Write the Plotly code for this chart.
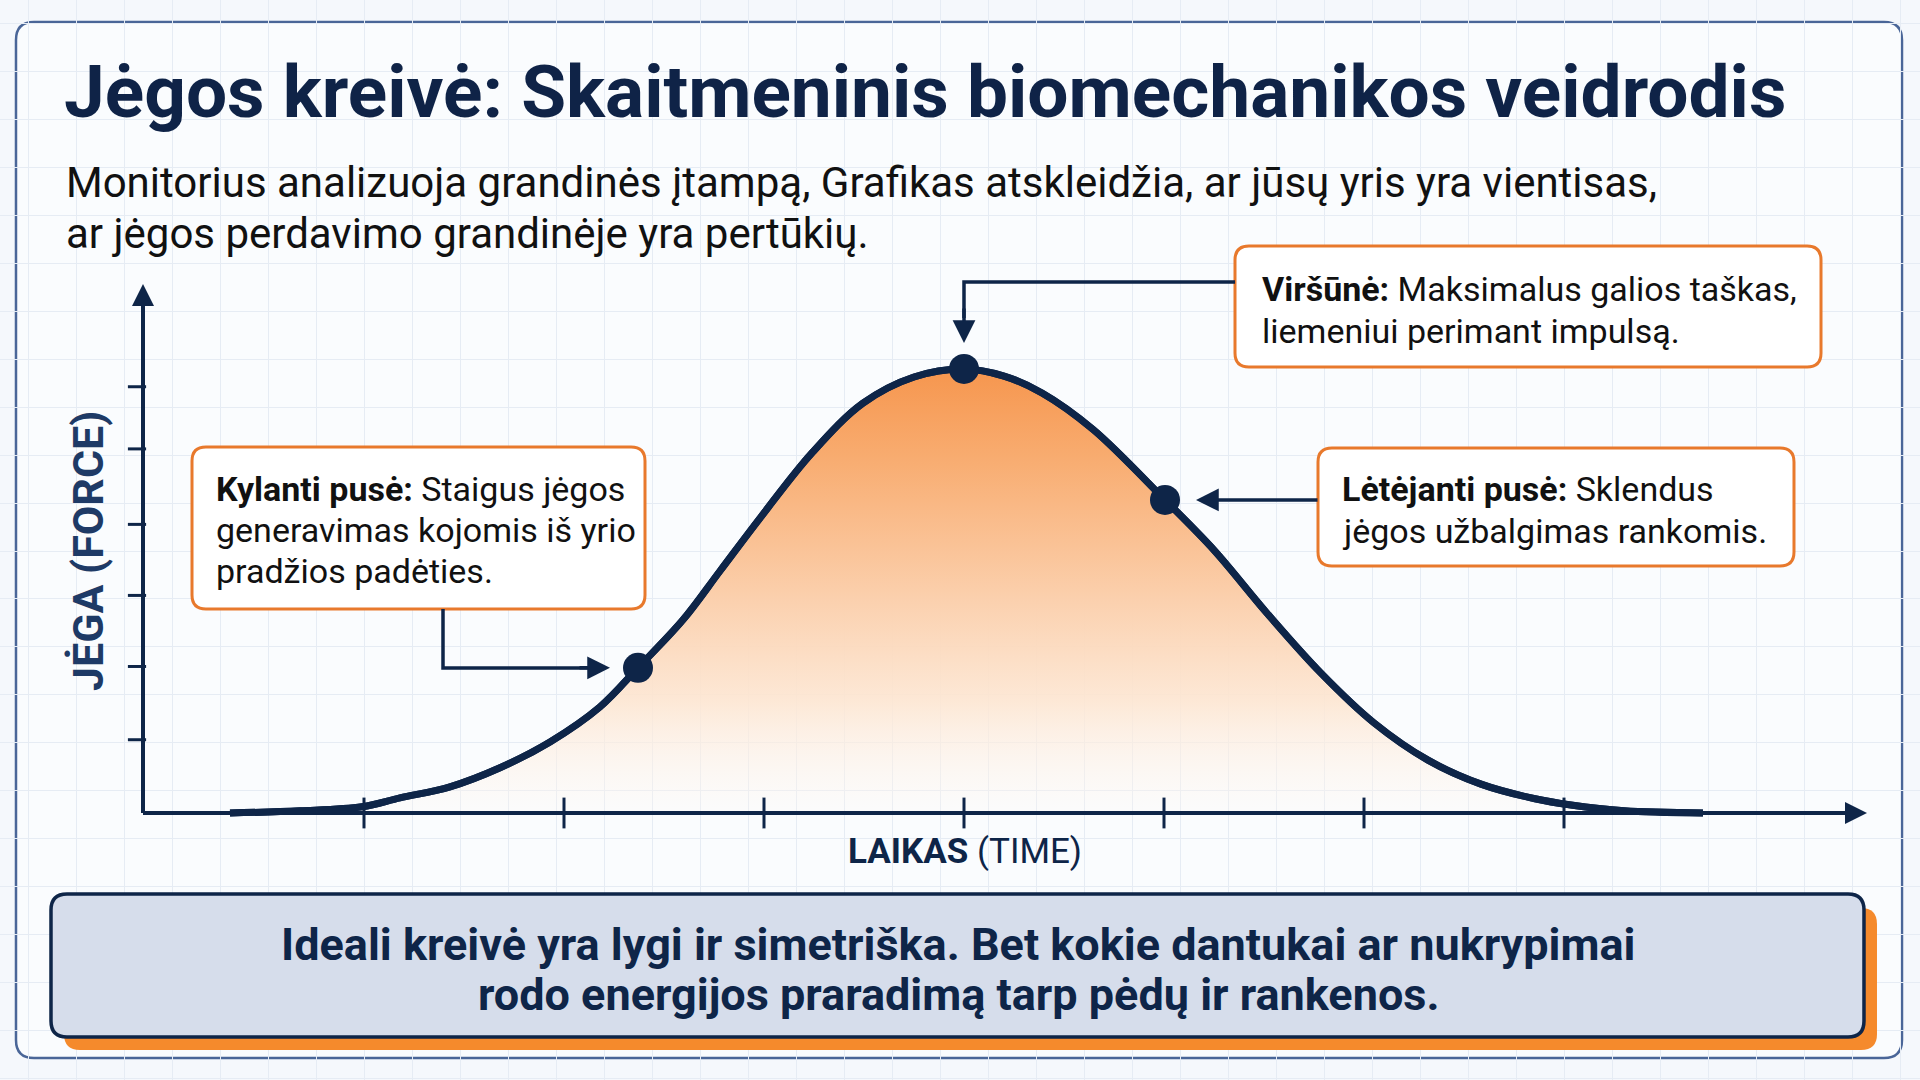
import plotly.graph_objects as go

# ---------------- data ----------------
time = [-3.67, -3.32, -3.01, -2.82, -2.57, -2.32, -2.07, -1.82, -1.63, -1.405, -1.22,
        -1.015, -0.76, -0.505, -0.25, 0.0, 0.2, 0.39, 0.645, 1.005, 1.25, 1.515,
        1.785, 2.05, 2.32, 2.585, 2.855, 3.035, 3.3, 3.695]
force = [0, 0.5, 1.4, 3.4, 5.9, 10.2, 16.0, 23.9, 32.7, 43.5, 54.5,
         66.7, 81.1, 92.3, 98.2, 100, 98.4, 94.6, 86.4, 70.5, 59.2, 45,
         31.5, 20.3, 11.9, 6.5, 3.2, 1.8, 0.5, 0]

key_time = [-1.63, 0.0, 1.005]
key_force = [32.7, 100, 70.5]

x_ticks = [-3, -2, -1, 0, 1, 2, 3]
y_ticks = [16.5, 33, 49, 65, 82, 96]

title_text = "Jėgos kreivė: Skaitmeninis biomechanikos veidrodis"
subtitle_lines = ["Monitorius analizuoja grandinės įtampą, Grafikas atskleidžia, ar jūsų yris yra vientisas,",
                  "ar jėgos perdavimo grandinėje yra pertūkių."]
rise_lines = ["<b>Kylanti pusė:</b> Staigus jėgos", "generavimas kojomis iš yrio", "pradžios padėties."]
peak_lines = ["<b>Viršūnė:</b> Maksimalus galios taškas,", "liemeniui perimant impulsą."]
fall_lines = ["<b>Lėtėjanti pusė:</b> Sklendus", "jėgos užbalgimas rankomis."]
bottom_lines = ["Ideali kreivė yra lygi ir simetriška. Bet kokie dantukai ar nukrypimai",
                "rodo energijos praradimą tarp pėdų ir rankenos."]
y_title = "JĖGA (FORCE)"
x_title = "<b>LAIKAS</b> (TIME)"

# ---------------- layout helpers ----------------
W, H = 1920, 1080
X_RANGE = [-4.82, 4.78]
Y_RANGE = [-60.135, 183.1]
NAVY = "#0E2548"
ORANGE = "#E8792C"
FONT = "Roboto"


def X(px):
    return X_RANGE[0] + px / W * (X_RANGE[1] - X_RANGE[0])


def Y(py):
    return Y_RANGE[1] - py / H * (Y_RANGE[1] - Y_RANGE[0])


def P(px, py):
    return px / W, 1 - py / H


def rrect(x0, y0, x1, y1, r):
    def f(a, b):
        u, v = P(a, b)
        return f"{u:.5f},{v:.5f}"
    return (f"M {f(x0 + r, y0)} L {f(x1 - r, y0)} Q {f(x1, y0)} {f(x1, y0 + r)} "
            f"L {f(x1, y1 - r)} Q {f(x1, y1)} {f(x1 - r, y1)} L {f(x0 + r, y1)} "
            f"Q {f(x0, y1)} {f(x0, y1 - r)} L {f(x0, y0 + r)} Q {f(x0, y0)} {f(x0 + r, y0)} Z")


def poly(points):
    s = []
    for i, (a, b) in enumerate(points):
        u, v = P(a, b)
        s.append(("M " if i == 0 else "L ") + f"{u:.5f},{v:.5f}")
    return " ".join(s)


fig = go.Figure()

# filled curve
fig.add_trace(go.Scatter(
    x=time, y=force, mode="lines", line=dict(color=NAVY, width=7, shape="spline", smoothing=1.0),
    fill="tozeroy",
    fillgradient=dict(type="vertical", start=0, stop=100,
                      colorscale=[[0.0, "rgba(255,248,242,0.2)"], [0.25, "rgba(253,230,210,0.9)"],
                                  [0.5, "rgb(251,206,170)"], [0.8, "rgb(248,172,112)"],
                                  [1.0, "rgb(246,150,78)"]]),
    hoverinfo="skip", showlegend=False))

# axis lines
fig.add_trace(go.Scatter(x=[X(143), X(143)], y=[0, Y(300)], mode="lines",
                         line=dict(color=NAVY, width=4), showlegend=False, hoverinfo="skip"))
fig.add_trace(go.Scatter(x=[X(143), X(1850)], y=[0, 0], mode="lines",
                         line=dict(color=NAVY, width=4), showlegend=False, hoverinfo="skip"))

# ticks
fig.add_trace(go.Scatter(x=x_ticks, y=[0] * len(x_ticks), mode="markers",
                         marker=dict(symbol="line-ns", size=22, line=dict(color=NAVY, width=3)),
                         showlegend=False, hoverinfo="skip", cliponaxis=False))
fig.add_trace(go.Scatter(x=[X(137)] * len(y_ticks), y=y_ticks, mode="markers",
                         marker=dict(symbol="line-ew", size=13, line=dict(color=NAVY, width=3)),
                         showlegend=False, hoverinfo="skip", cliponaxis=False))

# curve line above the axis
fig.add_trace(go.Scatter(x=time, y=force, mode="lines",
                         line=dict(color=NAVY, width=7, shape="spline", smoothing=1.0),
                         showlegend=False, hoverinfo="skip"))

# key points
fig.add_trace(go.Scatter(x=key_time, y=key_force, mode="markers",
                         marker=dict(size=30, color=NAVY), showlegend=False, hoverinfo="skip"))

shapes = []
# outer frame
shapes.append(dict(type="path", path=rrect(16, 22, 1902, 1058, 18), xref="paper", yref="paper",
                   line=dict(color="#4A6698", width=2.5), fillcolor="rgba(250,252,254,1)", layer="below"))
# callout boxes
for (x0, y0, x1, y1) in [(192, 447, 645, 609), (1235, 246, 1821, 367), (1318, 448, 1794, 566)]:
    shapes.append(dict(type="path", path=rrect(x0, y0, x1, y1, 14), xref="paper", yref="paper",
                       line=dict(color=ORANGE, width=3), fillcolor="white", layer="above"))
# connectors
shapes.append(dict(type="path", path=poly([(1235, 282), (964, 282), (964, 318)]), xref="paper", yref="paper",
                   line=dict(color=NAVY, width=3.5), layer="above"))
shapes.append(dict(type="path", path=poly([(443, 609), (443, 668), (590, 668)]), xref="paper", yref="paper",
                   line=dict(color=NAVY, width=3.5), layer="above"))
# bottom box with orange shadow
shapes.append(dict(type="path", path=rrect(64, 908, 1877, 1050, 16), xref="paper", yref="paper",
                   line=dict(width=0), fillcolor="#F58A2C", layer="above"))
shapes.append(dict(type="path", path=rrect(51, 894, 1864, 1037, 16), xref="paper", yref="paper",
                   line=dict(color=NAVY, width=3.5), fillcolor="#D6DDEB", layer="above"))

ann = []


def text(px, py, s, size, color="#111111", anchor="left", bold=False, angle=0):
    u, v = P(px, py)
    ann.append(dict(x=u, y=v, xref="paper", yref="paper", text=(f"<b>{s}</b>" if bold else s),
                    showarrow=False, xanchor=anchor, yanchor="middle", textangle=angle,
                    font=dict(family=FONT, size=size, color=color)))


text(62, 92, title_text, 73, color="#0F2347", bold=True)
text(64, 182, subtitle_lines[0], 42)
text(64, 233, subtitle_lines[1], 42)
for i, s in enumerate(rise_lines):
    text(214, 489 + 41 * i, s, 34)
for i, s in enumerate(peak_lines):
    text(1260, 289 + 42 * i, s, 34)
for i, s in enumerate(fall_lines):
    text(1340, 489 + 42 * i, s, 34)
text(958, 944, bottom_lines[0], 45, color=NAVY, anchor="center", bold=True)
text(958, 994, bottom_lines[1], 45, color=NAVY, anchor="center", bold=True)
text(88, 551, y_title, 43, color="#1E3A66", anchor="center", bold=True, angle=-90)
text(965, 851, x_title, 35, color=NAVY, anchor="center")

# arrows
ann.append(dict(x=X(143), y=Y(284), xref="x", yref="y", ax=X(143), ay=Y(340), axref="x", ayref="y",
                showarrow=True, arrowhead=2, arrowsize=1.1, arrowwidth=4, arrowcolor=NAVY, text=""))
ann.append(dict(x=X(1867), y=0, xref="x", yref="y", ax=X(1800), ay=0, axref="x", ayref="y",
                showarrow=True, arrowhead=2, arrowsize=1.1, arrowwidth=4, arrowcolor=NAVY, text=""))
ann.append(dict(x=key_time[1], y=key_force[1], xref="x", yref="y", ax=0, ay=-62,
                showarrow=True, arrowhead=2, arrowsize=1.3, arrowwidth=3.5, arrowcolor=NAVY,
                standoff=26, text=""))
ann.append(dict(x=key_time[0], y=key_force[0], xref="x", yref="y", ax=-60, ay=0,
                showarrow=True, arrowhead=2, arrowsize=1.3, arrowwidth=3.5, arrowcolor=NAVY,
                standoff=28, text=""))
ann.append(dict(x=key_time[2], y=key_force[2], xref="x", yref="y", ax=154, ay=0,
                showarrow=True, arrowhead=2, arrowsize=1.3, arrowwidth=3.5, arrowcolor=NAVY,
                standoff=31, text=""))

fig.update_layout(
    width=W, height=H, margin=dict(l=0, r=0, t=0, b=0, pad=0),
    paper_bgcolor="#F5F8FC", plot_bgcolor="rgba(0,0,0,0)",
    xaxis=dict(range=X_RANGE, showgrid=True, gridcolor="#E6ECF4", gridwidth=1, dtick=0.24, tick0=0.12,
               zeroline=False, showticklabels=False, ticks="", showline=False, fixedrange=True),
    yaxis=dict(range=Y_RANGE, showgrid=True, gridcolor="#E6ECF4", gridwidth=1, dtick=10.8, tick0=5,
               zeroline=False, showticklabels=False, ticks="", showline=False, fixedrange=True),
    shapes=shapes, annotations=ann, showlegend=False,
)

fig.write_html("out.html")
